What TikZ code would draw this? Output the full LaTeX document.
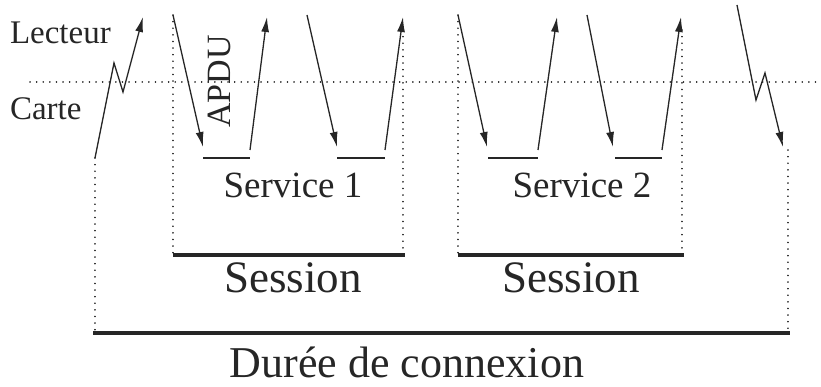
\documentclass[tikz,border=0pt]{standalone}
\usepackage{fontspec}
\setmainfont{Liberation Serif}
\usetikzlibrary{arrows.meta}
\definecolor{ink}{HTML}{262626}
\tikzset{
  msg/.style={draw=ink, line width=1.3pt, -{Latex[length=15pt,width=8pt]}},
  guide/.style={draw=ink, line width=1.6pt, line cap=round, dash pattern=on 0.1pt off 6.5pt},
  busy/.style={draw=ink, line width=2.4pt},
  span/.style={draw=ink, line width=3.2pt},
  lbl/.style={inner sep=0pt, outer sep=0pt, text=ink},
}
\begin{document}
\begin{tikzpicture}[x=1pt,y=-1pt]
\useasboundingbox (0,0) rectangle (821,387);

% border between reader and card
\coordinate (hl) at (30,82);
\coordinate (hr) at (821,82);
\draw[guide] (hl) -- (hr);

\node[lbl, anchor=base west, font=\fontsize{33}{36}\selectfont] (lect) at (10,44) {Lecteur};
\node[lbl, anchor=base west, font=\fontsize{33}{36}\selectfont] (carte) at (10,120) {Carte};

% connection opening (card answer to reset)
\coordinate (c0) at (95,158);
\coordinate (c1) at (114,63);
\coordinate (c2) at (123,92);
\coordinate (c3) at (143,17);
\draw[msg] (c0) -- (c1) -- (c2) -- (c3);

% session 1
\coordinate (a0) at (173,15);  \coordinate (a1) at (203,147);
\coordinate (s1a) at (203,158); \coordinate (s1b) at (250,158);
\coordinate (b0) at (250,150); \coordinate (b1) at (267,17);
\coordinate (a2) at (307,15);  \coordinate (a3) at (337,147);
\coordinate (s1c) at (337,158); \coordinate (s1d) at (385,158);
\coordinate (b2) at (385,150); \coordinate (b3) at (403,17);
\draw[msg] (a0) -- (a1);
\draw[busy] (s1a) -- (s1b);
\draw[msg] (b0) -- (b1);
\draw[msg] (a2) -- (a3);
\draw[busy] (s1c) -- (s1d);
\draw[msg] (b2) -- (b3);

% session 2
\coordinate (d0) at (458,15);  \coordinate (d1) at (487,147);
\coordinate (s2a) at (488,158); \coordinate (s2b) at (538,158);
\coordinate (e0) at (538,150); \coordinate (e1) at (557,17);
\coordinate (d2) at (587,15);  \coordinate (d3) at (613,147);
\coordinate (s2c) at (615,158); \coordinate (s2d) at (662,158);
\coordinate (e2) at (662,150); \coordinate (e3) at (681,17);
\draw[msg] (d0) -- (d1);
\draw[busy] (s2a) -- (s2b);
\draw[msg] (e0) -- (e1);
\draw[msg] (d2) -- (d3);
\draw[busy] (s2c) -- (s2d);
\draw[msg] (e2) -- (e3);

% connection closing
\coordinate (f0) at (737,5);
\coordinate (f1) at (756,100);
\coordinate (f2) at (765,73);
\coordinate (f3) at (783,147);
\draw[msg] (f0) -- (f1) -- (f2) -- (f3);

% dotted limits
\coordinate (g0) at (95,333);
\coordinate (g1) at (173,255);
\coordinate (g2) at (403,255);
\coordinate (g3) at (458,255);
\coordinate (g4) at (682,255);
\coordinate (g5a) at (788,150);
\coordinate (g5) at (788,333);
\coordinate (b3d) at (403,30);
\coordinate (e3d) at (682,30);
\draw[guide] (c0) -- (g0);
\draw[guide] (a0) -- (g1);
\draw[guide] (b3d) -- (g2);
\draw[guide] (d0) -- (g3);
\draw[guide] (e3d) -- (g4);
\draw[guide] (g5a) -- (g5);

% durations
\coordinate (p0) at (173,255); \coordinate (p1) at (405,255);
\coordinate (q0) at (458,255); \coordinate (q1) at (684,255);
\coordinate (r0) at (93,333);  \coordinate (r1) at (790,333);
\draw[span] (p0) -- (p1);
\draw[span] (q0) -- (q1);
\draw[span] (r0) -- (r1);

% labels
\node[lbl, anchor=base west, rotate=90, font=\fontsize{34}{36}\selectfont] (apdu) at (230,128) {APDU};
\node[lbl, anchor=base, font=\fontsize{37}{40}\selectfont] (sv1) at (293,198) {Service 1};
\node[lbl, anchor=base, font=\fontsize{37}{40}\selectfont] (sv2) at (582,198) {Service 2};
\node[lbl, anchor=base, font=\fontsize{45}{48}\selectfont] (se1) at (293,292) {Session};
\node[lbl, anchor=base, font=\fontsize{45}{48}\selectfont] (se2) at (571,292) {Session};
\node[lbl, anchor=base, font=\fontsize{44}{48}\selectfont] (dur) at (407,377) {Durée de connexion};
\end{tikzpicture}
\end{document}
